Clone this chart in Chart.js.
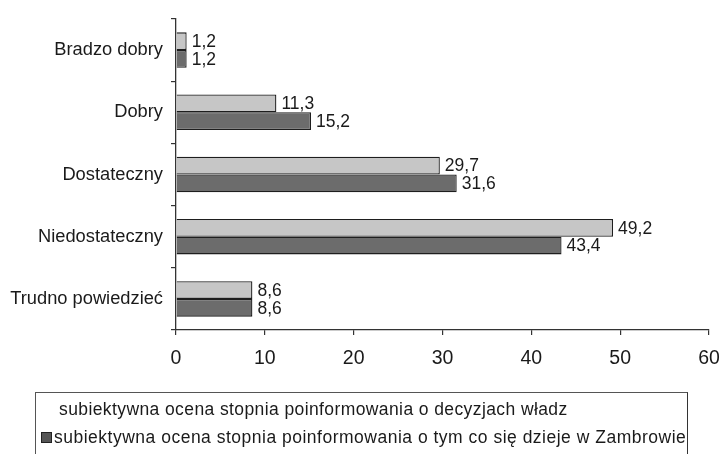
<!DOCTYPE html>
<html><head><meta charset="utf-8">
<script src="https://cdn.jsdelivr.net/npm/chart.js@4.4.0/dist/chart.umd.min.js"></script>
<style>
html,body{margin:0;padding:0;background:#fff;overflow:hidden}
#wrap{position:relative;width:719px;height:454px}
#legend{position:absolute;left:35px;top:392px;width:653px;height:70px;border:1px solid #555;border-right:1px solid #333;box-sizing:border-box;font-family:"Liberation Sans",Arial,sans-serif;font-size:17.5px;letter-spacing:0.4px;color:#1a1a1a}
.row{position:absolute;left:0;white-space:nowrap;line-height:20px}
.sw{display:inline-block;width:9px;height:9px;background:#555;border:1px solid #222;vertical-align:middle;margin-right:2px;position:relative;top:-1px}
</style></head>
<body><div id="wrap"><canvas id="c" width="719" height="454"></canvas>
<div id="legend"></div></div>
<script>
const categories = ["Bradzo dobry","Dobry","Dostateczny","Niedostateczny","Trudno powiedzieć"];
const seriesNames = ["subiektywna ocena stopnia poinformowania o decyzjach władz","subiektywna ocena stopnia poinformowania o tym co się dzieje w Zambrowie"];
const seriesA = [1.2, 11.3, 29.7, 49.2, 8.6];
const seriesB = [1.2, 15.2, 31.6, 43.4, 8.6];
const xTicks = [0,10,20,30,40,50,60];

const FONT = '"Liberation Sans", Arial, sans-serif';

const leg = document.getElementById('legend');
leg.innerHTML = '<div class="row" style="top:6px;left:23px">'+seriesNames[0]+'</div>'+
 '<div class="row" style="top:34px;left:5px"><span class="sw"></span><span style="letter-spacing:0.5px">'+seriesNames[1]+'</span></div>';

const valueLabels = {
  id:'valueLabels',
  afterDatasetsDraw(chart){
    const ctx = chart.ctx;
    ctx.save();
    ctx.font = '17.5px '+FONT;
    ctx.fillStyle = '#1a1a1a';
    ctx.textBaseline = 'middle';
    ctx.textAlign = 'left';
    chart.data.datasets.forEach((ds,i)=>{
      chart.getDatasetMeta(i).data.forEach((bar,j)=>{
        ctx.fillText(String(ds.data[j]).replace('.',','), bar.x+5, bar.y+1);
      });
    });
    ctx.restore();
  }
};

new Chart(document.getElementById('c'),{
  type:'bar',
  data:{labels:categories,datasets:[
    {label:seriesNames[0],data:seriesA,backgroundColor:'#c6c6c6',borderColor:'#1e1e1e',borderWidth:1.3,categoryPercentage:0.57,barPercentage:1},
    {label:seriesNames[1],data:seriesB,backgroundColor:'#6c6c6c',borderColor:'#1e1e1e',borderWidth:1.3,categoryPercentage:0.57,barPercentage:1}
  ]},
  options:{
    indexAxis:'y',responsive:false,animation:false,
    layout:{padding:{left:0,right:10,top:13,bottom:84}},
    plugins:{legend:{display:false},tooltip:{enabled:false}},
    scales:{
      x:{min:0,max:60,
        afterBuildTicks(s){s.ticks=xTicks.map(v=>({value:v}));},
        afterFit(s){s.height=40;s.paddingRight=0;s.paddingLeft=0;},
        border:{display:true,color:'#333',width:1.3},
        grid:{drawOnChartArea:false,drawTicks:true,tickLength:5,color:'#333',lineWidth:1.2},
        ticks:{color:'#1a1a1a',font:{family:FONT,size:19.5},padding:12}
      },
      y:{
        afterFit(s){s.width=176;},
        border:{display:true,color:'#333',width:1.3},
        grid:{drawOnChartArea:false,drawTicks:true,tickLength:5,offset:true,color:'#333',lineWidth:1.2},
        ticks:{color:'#1a1a1a',font:{family:FONT,size:18.3},padding:8}
      }
    }
  },
  plugins:[valueLabels]
});
</script></body></html>
